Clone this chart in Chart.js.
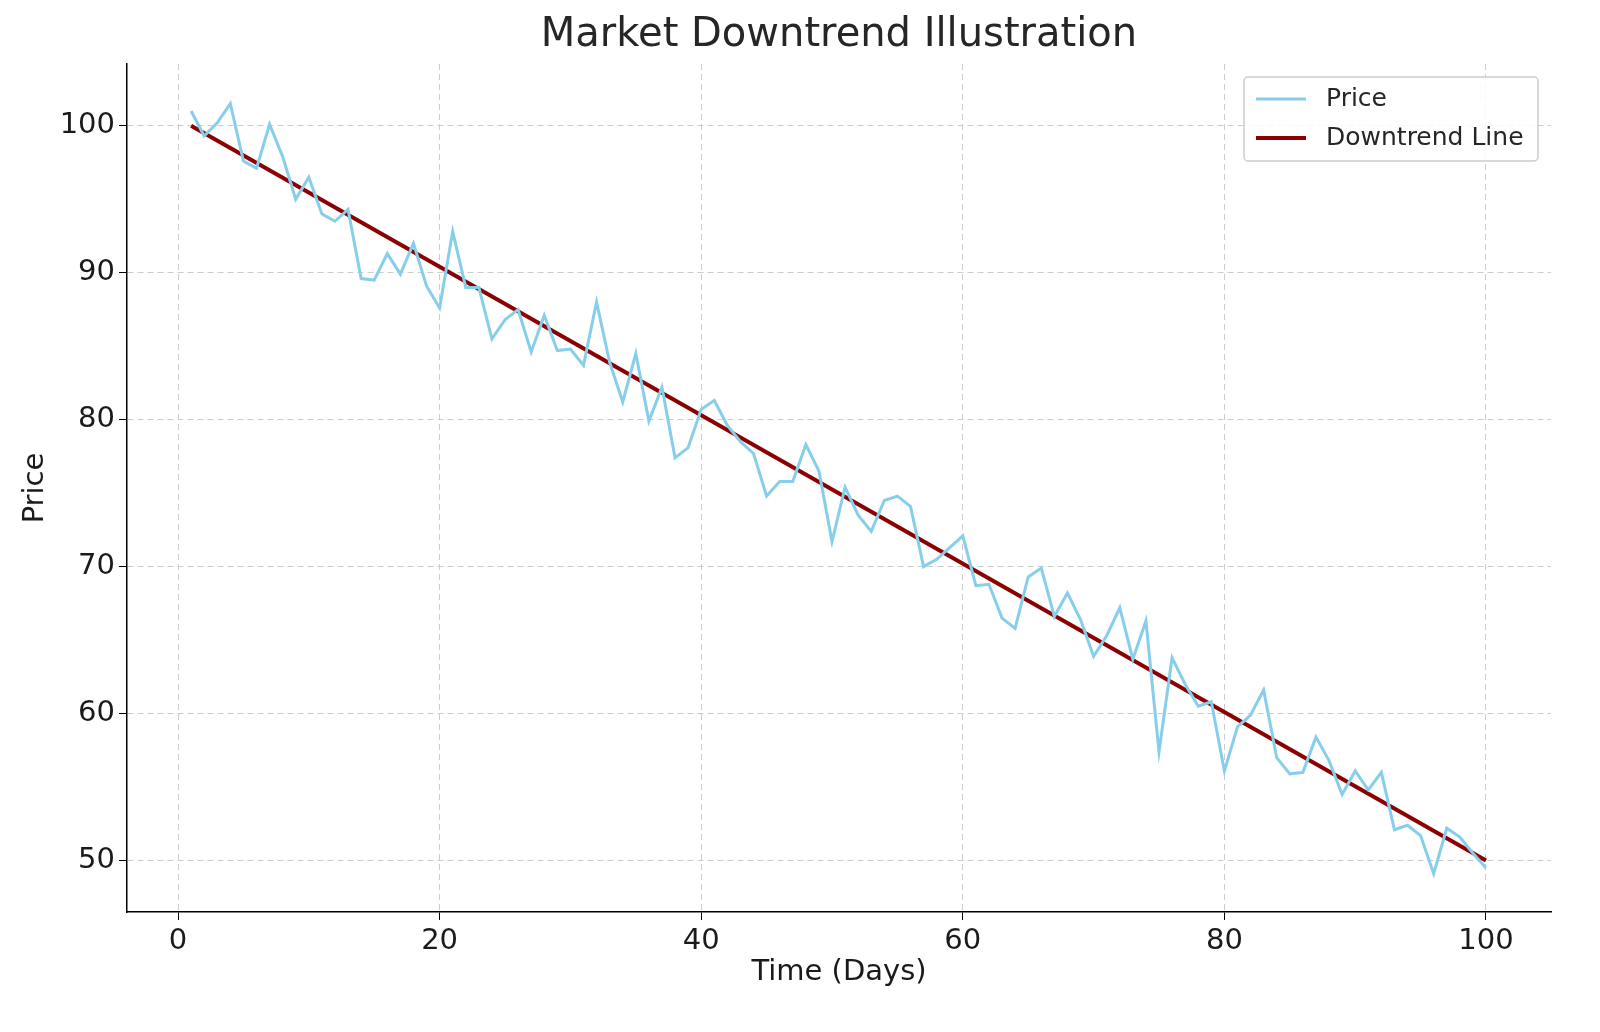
<!DOCTYPE html>
<html><head><meta charset="utf-8">
<script src="https://cdn.jsdelivr.net/npm/chart.js@4"></script>
<style>html,body{margin:0;padding:0;background:#fff;overflow:hidden}#w{width:1600px;height:1032px;position:relative}canvas{display:block}</style>
</head><body><div id="w"><canvas id="c"></canvas></div>
<script>
const days = Array.from({length:100},(_,i)=>i+1);
const price = [101.0,99.3,100.2,101.5,97.6,97.1,100.1,97.9,95.0,96.5,
94.0,93.5,94.3,89.6,89.5,91.3,89.9,92.0,89.1,87.6,
92.8,89.0,89.0,85.5,86.8,87.5,84.6,87.1,84.7,84.8,
83.7,88.0,83.9,81.2,84.5,79.9,82.2,77.4,78.1,80.7,
81.3,79.6,78.5,77.7,74.8,75.8,75.8,78.3,76.5,71.7,
75.4,73.5,72.4,74.5,74.8,74.1,70.0,70.5,71.3,72.1,
68.7,68.8,66.5,65.8,69.3,69.9,66.6,68.2,66.4,63.9,
65.3,67.2,63.7,66.3,57.4,63.8,62.0,60.5,60.8,56.1,
59.1,59.9,61.6,57.0,55.9,56.0,58.4,56.8,54.5,56.1,
54.8,56.0,52.1,52.4,51.7,49.1,52.2,51.6,50.5,49.5];
const trendDays = [1,100];
const trendValues = [100,50];
const xTicks = [0,20,40,60,80,100];
const yTicks = [50,60,70,80,90,100];
const FONT = "'DejaVu Sans', sans-serif";

const overlay = {
  id:'overlay',
  afterDraw(chart){
    const ctx = chart.ctx, a = chart.chartArea;
    ctx.save();
    ctx.fillStyle = '#262626';
    ctx.font = "40px " + FONT;
    ctx.textAlign='center'; ctx.textBaseline='middle';
    ctx.fillText('Market Downtrend Illustration',(a.left+a.right)/2,36);
    const x0=1244,y0=77,w=294,h=84;
    ctx.fillStyle='rgba(255,255,255,0.85)';
    ctx.strokeStyle='#cccccc'; ctx.lineWidth=1.5;
    ctx.beginPath(); ctx.roundRect(x0,y0,w,h,4); ctx.fill(); ctx.stroke();
    ctx.font = "25px " + FONT; ctx.textAlign='left';
    chart.data.datasets.forEach((ds,i)=>{
      const y = y0+22+i*39;
      ctx.strokeStyle=ds.borderColor; ctx.lineWidth=ds.borderWidth;
      ctx.beginPath(); ctx.moveTo(x0+12,y); ctx.lineTo(x0+62,y); ctx.stroke();
      ctx.fillStyle='#262626'; ctx.fillText(ds.label,x0+82,y);
    });
    ctx.restore();
  }
};

new Chart(document.getElementById('c'),{
  type:'line',
  data:{datasets:[
    {label:'Price',data:days.map((d,i)=>({x:d,y:price[i]})),borderColor:'#87CEEB',borderWidth:3,pointRadius:0,tension:0},
    {label:'Downtrend Line',data:trendDays.map((d,i)=>({x:d,y:trendValues[i]})),borderColor:'#8B0000',borderWidth:4,pointRadius:0}
  ]},
  options:{
    responsive:true,maintainAspectRatio:false,animation:false,
    layout:{padding:{top:64,right:49,left:0,bottom:0}},
    plugins:{legend:{display:false},title:{display:false},tooltip:{enabled:false}},
    scales:{
      x:{type:'linear',min:-3.9,max:104.97,
        afterBuildTicks(s){s.ticks=xTicks.map(v=>({value:v}));},
        afterFit(s){s.height=120;},
        border:{display:true,color:'#000',width:1.5,dash:[6,4]},
        grid:{color:'#cccccc',lineWidth:1,tickLength:8,tickColor:'#000',tickBorderDash:[]},
        ticks:{color:'#1a1a1a',font:{family:FONT,size:29},padding:4,maxRotation:0},
        title:{display:true,text:'Time (Days)',color:'#1a1a1a',font:{family:FONT,size:29},padding:{top:10,bottom:42}}
      },
      y:{min:46.5,max:104.2,
        afterBuildTicks(s){s.ticks=yTicks.map(v=>({value:v}));},
        afterFit(s){s.width=127;},
        border:{display:true,color:'#000',width:1.5,dash:[6,4]},
        grid:{color:'#cccccc',lineWidth:1,tickLength:8,tickColor:'#000',tickBorderDash:[]},
        ticks:{color:'#1a1a1a',font:{family:FONT,size:29},padding:4},
        title:{display:true,text:'Price',color:'#1a1a1a',font:{family:FONT,size:29},padding:{top:18,bottom:10}}
      }
    }
  },
  plugins:[overlay]
});
</script></body></html>
